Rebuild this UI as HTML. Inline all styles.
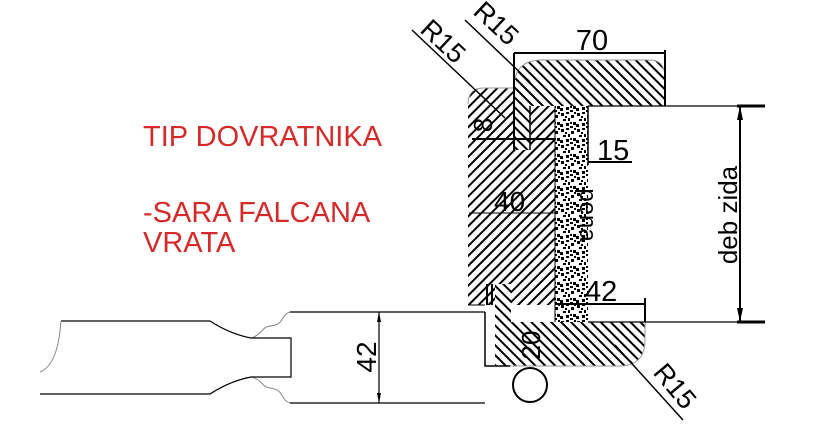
<!DOCTYPE html>
<html><head><meta charset="utf-8"><style>
html,body{margin:0;padding:0;background:#fff}
svg{display:block}
text{font-family:"Liberation Sans",sans-serif}
</style></head><body>
<svg width="816" height="436" viewBox="0 0 816 436" xmlns="http://www.w3.org/2000/svg">
<defs>
<pattern id="h1" patternUnits="userSpaceOnUse" width="7" height="7" patternTransform="rotate(45)">
<rect width="7" height="7" fill="#fff"/><line x1="1" y1="0" x2="1" y2="7" stroke="#000" stroke-width="2"/></pattern>
<pattern id="h2" patternUnits="userSpaceOnUse" width="7" height="7" patternTransform="rotate(-45)">
<rect width="7" height="7" fill="#fff"/><line x1="1" y1="0" x2="1" y2="7" stroke="#000" stroke-width="2"/></pattern>
<pattern id="foam" patternUnits="userSpaceOnUse" width="16" height="16">
<rect width="16" height="16" fill="#fff"/>
<g fill="#000">
<rect x="1" y="1" width="3" height="3"/><rect x="6" y="0" width="3" height="2"/><rect x="11" y="3" width="3" height="3"/>
<rect x="3" y="7" width="3" height="2"/><rect x="8" y="6" width="2" height="3"/><rect x="13" y="10" width="3" height="3"/>
<rect x="0" y="12" width="3" height="3"/><rect x="6" y="11" width="3" height="3"/><rect x="10" y="14" width="3" height="2"/>
<rect x="5" y="4" width="2" height="2"/><rect x="10" y="10" width="2" height="2"/><rect x="14" y="0" width="2" height="2"/>
</g>
</pattern>
</defs>

<g fill="#d42a2a" font-size="29">
<text x="143" y="146">TIP DOVRATNIKA</text>
<text x="143" y="222">-SARA FALCANA</text>
<text x="143" y="252">VRATA</text>
</g>

<!-- top casing 70 -->
<path d="M514,106 L514,88 Q514,60 542,60 L650,60 Q665,60 665,78 L665,106 Z" fill="url(#h2)"/>
<path d="M514,88 Q514,60 542,60 L650,60 Q665,60 665,78 L665,106" fill="none" stroke="#999" stroke-width="1"/>
<!-- left frame -->
<path d="M468,305 L468,104 Q468,88 484,88 L514,88 L514,106 L555,106 L555,305 Z" fill="url(#h1)"/>
<path d="M468,104 Q468,88 484,88 L514,88" fill="none" stroke="#999"/>
<rect x="514" y="106" width="16" height="44" fill="url(#h2)"/>
<line x1="469" y1="213" x2="555" y2="213" stroke="#000" stroke-width="1"/>
<line x1="468" y1="305" x2="485" y2="305" stroke="#000"/>
<!-- foam -->
<rect x="555" y="106" width="33" height="216" fill="url(#foam)"/>
<line x1="555" y1="106" x2="555" y2="322" stroke="#000"/>
<line x1="588" y1="106" x2="588" y2="165" stroke="#000" stroke-width="1.5"/>
<text transform="translate(580,215) rotate(90)" font-size="24" fill="#000" text-anchor="middle">pena</text>

<!-- bottom casing -->
<path d="M495,284 L511,284 L511,322 L645,322 L645,340 Q645,366 619,366 L495,366 Z" fill="url(#h2)"/>
<path d="M645,322 L645,340 Q645,366 619,366 L495,366" fill="none" stroke="#999"/>
<path d="M485,312 L485,366 L510,366" fill="none" stroke="#000" stroke-width="1.5"/>
<line x1="487" y1="284" x2="487" y2="305" stroke="#000" stroke-width="2"/>
<line x1="492" y1="284" x2="492" y2="305" stroke="#000" stroke-width="2"/>
<circle cx="530" cy="385" r="17" fill="#fff" stroke="#000" stroke-width="2"/>
<text transform="translate(540,345) rotate(-90)" font-size="26" text-anchor="middle">20</text>

<!-- wall lines -->
<line x1="588" y1="106" x2="765" y2="106" stroke="#000" stroke-width="1.2"/>
<line x1="588" y1="322" x2="765" y2="322" stroke="#000" stroke-width="1.2"/>
<line x1="737" y1="106" x2="765" y2="106" stroke="#000" stroke-width="3"/>
<line x1="737" y1="322" x2="765" y2="322" stroke="#000" stroke-width="3"/>
<line x1="740" y1="106" x2="740" y2="322" stroke="#000" stroke-width="2"/>
<path d="M740,106 l-3,14 l6,0 Z M740,322 l-3,-14 l6,0 Z"/>
<text transform="translate(737,215) rotate(-90)" font-size="26" text-anchor="middle">deb zida</text>

<!-- dims top -->
<line x1="514" y1="53" x2="514" y2="150" stroke="#000" stroke-width="2"/>
<line x1="665" y1="50" x2="665" y2="106" stroke="#000" stroke-width="2"/>
<line x1="514" y1="53" x2="665" y2="53" stroke="#000" stroke-width="2"/>
<text x="592" y="50" font-size="29" text-anchor="middle">70</text>
<line x1="472" y1="139" x2="555" y2="139" stroke="#000" stroke-width="2"/>
<line x1="530" y1="106" x2="530" y2="150" stroke="#000" stroke-width="1.5"/>
<text transform="translate(492,125) rotate(-90)" font-size="26" text-anchor="middle">8</text>
<text x="494" y="211" font-size="28">40</text>
<line x1="588" y1="162" x2="632" y2="162" stroke="#000" stroke-width="2"/>
<text x="597" y="160" font-size="29">15</text>
<line x1="555" y1="304" x2="645" y2="304" stroke="#000" stroke-width="2"/>
<line x1="645" y1="298" x2="645" y2="322" stroke="#000" stroke-width="2"/>
<text x="585" y="301" font-size="29">42</text>
<!-- R15 leaders -->
<line x1="412" y1="30" x2="505" y2="118" stroke="#000" stroke-width="1.5"/>
<text transform="translate(437,48) rotate(43)" font-size="27" text-anchor="middle">R15</text>
<line x1="465" y1="20" x2="530" y2="82" stroke="#000" stroke-width="1.5"/>
<text transform="translate(490,30) rotate(43)" font-size="27" text-anchor="middle">R15</text>
<line x1="615" y1="345" x2="683" y2="420" stroke="#000" stroke-width="1.5"/>
<text transform="translate(668,392) rotate(50)" font-size="27" text-anchor="middle">R15</text>

<!-- door -->
<path d="M290,312 L485,312 M290,403 L485,403" stroke="#000" stroke-width="1.2" fill="none"/>
<path d="M290,312 C280,315 285,325 270,326 C262,327 262,334 252,338" stroke="#888" fill="none"/>
<path d="M290,403 C280,400 285,390 270,388 C262,387 262,380 252,377" stroke="#888" fill="none"/>
<path d="M251,338 L291,338 L291,377 L251,377" stroke="#000" stroke-width="1.2" fill="none"/>
<path d="M61,321 L210,321 Q230,334 251,338 M40,394 L210,394 Q230,381 251,377" stroke="#000" stroke-width="1.2" fill="none"/>
<path d="M61,321 Q58,365 40,372" stroke="#888" fill="none"/>
<line x1="379" y1="312" x2="379" y2="403" stroke="#000" stroke-width="1.2"/>
<path d="M379,312 l-2,10 l4,0 Z M379,403 l-2,-10 l4,0 Z"/>
<text transform="translate(376,357) rotate(-90)" font-size="28" text-anchor="middle">42</text>
</svg>
</body></html>
